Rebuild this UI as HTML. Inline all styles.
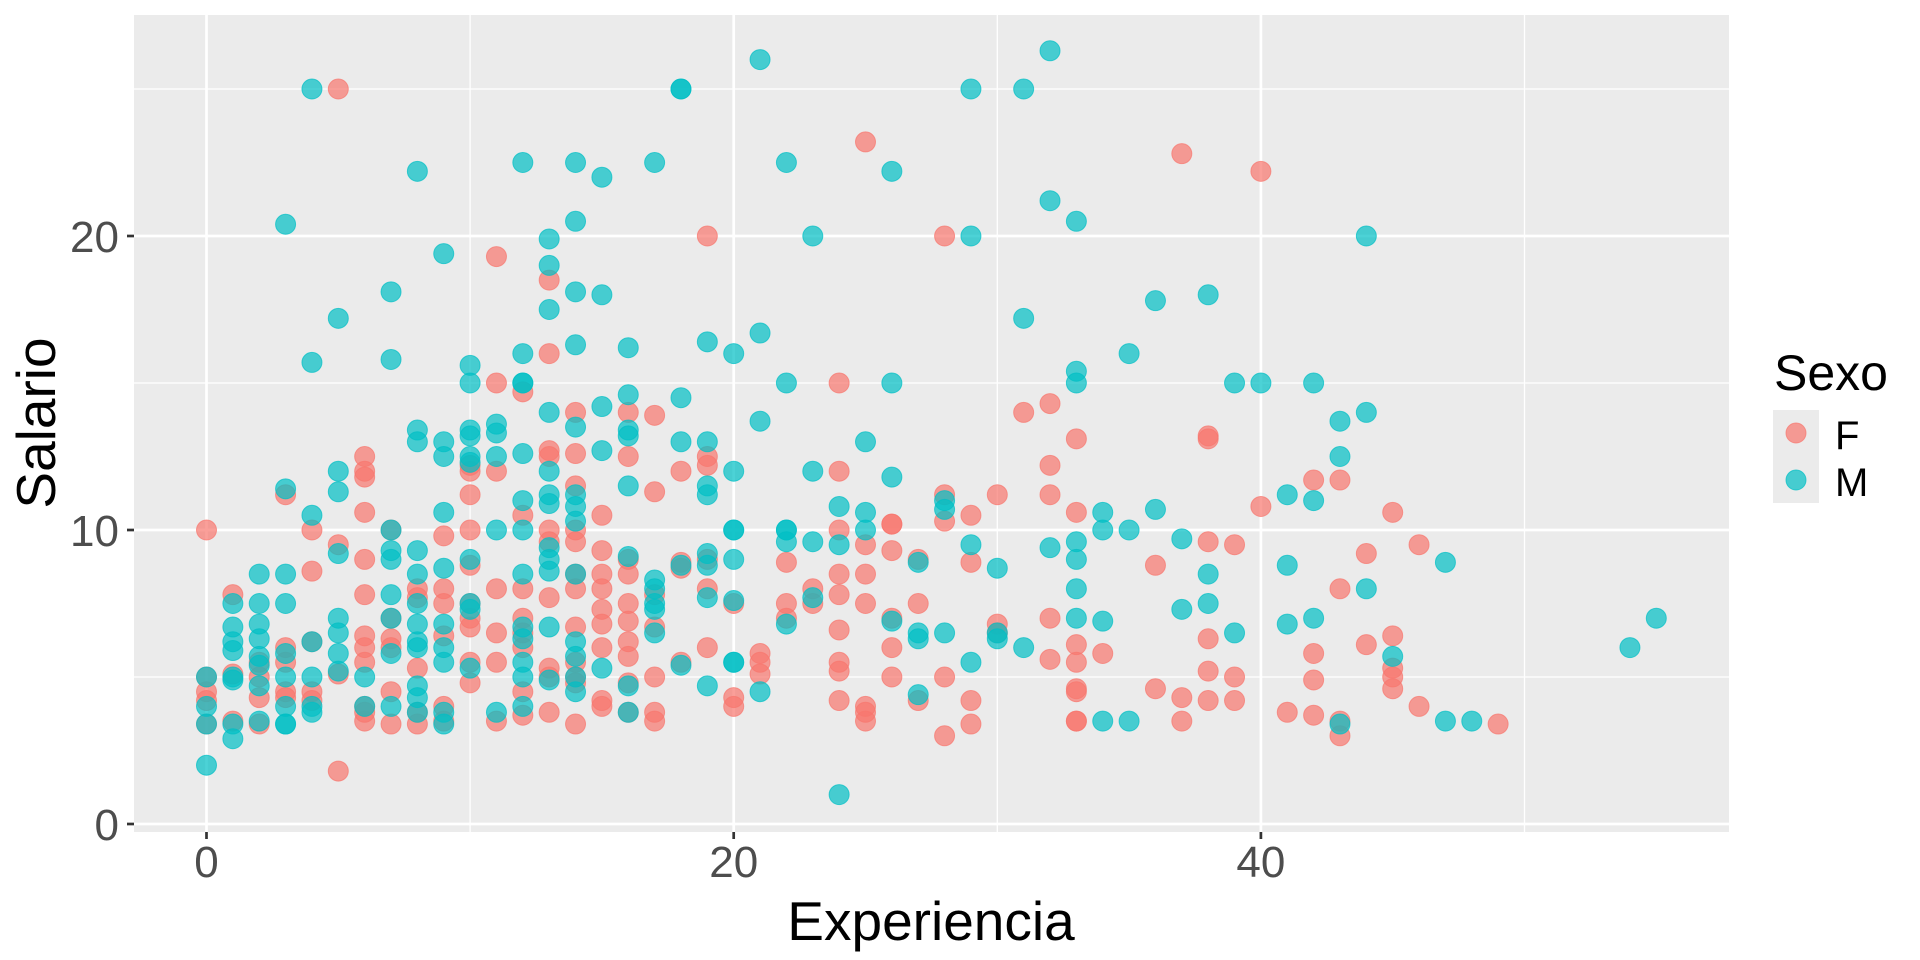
<!DOCTYPE html>
<html><head><meta charset="utf-8"><style>
html,body{margin:0;padding:0;background:#fff;}
svg{display:block;font-family:"Liberation Sans",Arial,sans-serif;}
</style></head><body>
<svg id="chart" width="1920" height="960" viewBox="0 0 1920 960" xmlns="http://www.w3.org/2000/svg">
<rect x="134" y="15" width="1595" height="817" fill="#EBEBEB"/>
<g id="grid"></g>
<g id="points"></g>
<g id="axes"></g>
<text x="931" y="940" font-size="55" text-anchor="middle" fill="#000">Experiencia</text>
<text transform="translate(55,423) rotate(-90)" font-size="55" text-anchor="middle" fill="#000">Salario</text>
<g>
<text x="1774" y="390" font-size="50" fill="#000">Sexo</text>
<rect x="1773" y="410" width="46" height="93" fill="#EBEBEB"/>
<circle cx="1796" cy="433" r="10" fill="#F8766D" fill-opacity="0.7" stroke="#F8766D" stroke-opacity="0.7"/>
<circle cx="1796" cy="480" r="10" fill="#00BFC4" fill-opacity="0.7" stroke="#00BFC4" stroke-opacity="0.7"/>
<text x="1835" y="449" font-size="40" fill="#000">F</text>
<text x="1835" y="496" font-size="40" fill="#000">M</text>
</g>
</svg>
<script>
const xTicks=[0,20,40];
const xMinor=[10,30,50];
const yTicks=[0,10,20];
const yMinor=[5,15,25];
const fData=[
[0,[10,5,4.5,4.2,3.4]],[1,[7.8,3.5,5.1]],[2,[5.5,5,4.3,3.4]],[3,[11.2,6,5.5,4.5,4.3]],[4,[10,8.6,6.2,4.5,4.2]],
[5,[25,9.5,5.1,1.8]],[6,[12.5,12,11.8,10.6,9,7.8,6.4,6,5.5,4,3.8,3.5]],[7,[10,7,6.3,6,4.5,3.4]],[8,[8,7.7,5.3,3.8,3.4]],
[9,[9.8,8,7.5,6.4,4,3.5]],[10,[12.2,12,11.2,10,8.8,7.5,7,6.7,5.5,4.8]],[11,[19.3,15,12,8,6.5,5.5,3.5]],
[12,[14.7,10.5,8,7,6.5,6,4.5,3.7]],[13,[18.5,16,12.7,12.5,10,9.6,7.7,5.3,5,3.8]],[14,[14,12.6,11.5,10,9.6,8.5,8,6.7,5.5,5,4.8,3.4]],
[15,[10.5,9.3,8.5,8,7.3,6.8,6,4.2,4]],[16,[14,12.5,9,8.5,7.5,6.9,6.2,5.7,4.8,3.8]],[17,[13.9,11.3,7.8,6.7,5,3.8,3.5]],
[18,[12,8.9,8.7,5.5]],[19,[20,12.5,12.2,9,8,6]],[20,[7.5,4.3,4]],[21,[5.8,5.5,5.1]],[22,[8.9,7.5,7]],[23,[8,7.5]],
[24,[15,12,10,8.5,7.8,6.6,5.5,5.2,4.2]],[25,[23.2,9.5,8.5,7.5,4,3.8,3.5]],[26,[10.2,10.2,9.3,7,6,5]],[27,[9,7.5,4.2]],
[28,[20,11.2,10.3,5,3]],[29,[10.5,8.9,4.2,3.4]],[30,[11.2,6.8,6.5]],[31,[14]],[32,[14.3,12.2,11.2,7,5.6]],
[33,[13.1,10.6,6.1,5.5,4.6,4.5,3.5,3.5]],[34,[5.8]],[36,[8.8,4.6]],[37,[22.8,4.3,3.5]],[38,[13.2,13.1,9.6,6.3,5.2,4.2]],
[39,[9.5,5,4.2]],[40,[22.2,10.8]],[41,[3.8]],[42,[11.7,5.8,4.9,3.7]],[43,[11.7,8,3.5,3]],[44,[9.2,6.1]],
[45,[10.6,6.4,5.3,5,4.6]],[46,[9.5,4]],[49,[3.4]]];
const mData=[
[0,[5,4,3.4,2]],[1,[7.5,6.7,6.2,5.9,5,4.9,3.4,2.9]],[2,[8.5,7.5,6.8,6.3,5.7,5.4,4.7,3.5]],[3,[20.4,11.4,8.5,7.5,5.8,5,4,3.4,3.4]],
[4,[25,15.7,10.5,6.2,5,4,3.8]],[5,[17.2,12,11.3,9.2,7,6.5,5.8,5.2]],[6,[5,4]],[7,[18.1,15.8,10,9.3,9,7.8,7,5.8,4]],
[8,[22.2,13.4,13,9.3,8.5,7.5,6.8,6.2,6,4.7,4.3,3.8]],[9,[19.4,13,12.5,10.6,8.7,6.8,6,5.5,3.8,3.4]],
[10,[15.6,15,13.4,13.2,12.5,12.3,9,7.5,7.3,5.3]],[11,[13.6,13.3,12.5,10,3.8]],[12,[22.5,16,15,15,12.6,11,10,8.5,6.7,6.3,5.5,5,4]],
[13,[19.9,19,17.5,14,12,11.2,10.9,9.4,9,8.6,6.7,4.9]],[14,[22.5,20.5,18.1,16.3,13.5,11.2,10.8,10.3,8.5,6.2,5.7,5,4.5]],
[15,[22,18,14.2,12.7,5.3]],[16,[16.2,14.6,13.4,13.2,11.5,9.1,4.7,3.8]],[17,[22.5,8.3,8,7.5,7.3,6.5]],[18,[25,25,14.5,13,8.8,5.4]],
[19,[16.4,13,11.5,11.2,9.2,8.8,7.7,4.7]],[20,[16,12,10,10,9,7.6,5.5,5.5]],[21,[26,16.7,13.7,4.5]],[22,[22.5,15,10,10,9.6,6.8]],
[23,[20,12,9.6,7.7]],[24,[10.8,9.5,1]],[25,[13,10.6,10]],[26,[22.2,15,11.8,6.9]],[27,[8.9,6.5,6.3,4.4]],[28,[11,10.7,6.5]],
[29,[25,20,9.5,5.5]],[30,[8.7,6.5,6.3]],[31,[25,17.2,6]],[32,[26.3,21.2,9.4]],[33,[20.5,15.4,15,9.6,9,8,7]],
[34,[10.6,10,6.9,3.5]],[35,[16,10,3.5]],[36,[17.8,10.7]],[37,[9.7,7.3]],[38,[18,8.5,7.5]],[39,[15,6.5]],[40,[15]],
[41,[11.2,8.8,6.8]],[42,[15,11,7]],[43,[13.7,12.5,3.4]],[44,[20,14,8]],[45,[5.7]],[47,[8.9,3.5]],[48,[3.5]],[54,[6]],[55,[7]]];
const NS="http://www.w3.org/2000/svg";
const X=v=>206.5+26.36*v, Y=v=>824-29.4*v;
const PL=134,PR=1729,PT=15,PB=832;
function mk(t,a,p){const e=document.createElementNS(NS,t);for(const k in a)e.setAttribute(k,a[k]);p.appendChild(e);return e;}
const grid=document.getElementById('grid'),axes=document.getElementById('axes'),pts=document.getElementById('points');
xMinor.forEach(v=>{const l=mk('line',{x1:X(v),x2:X(v),y1:PT,y2:PB,stroke:'#fff','stroke-width':1.3},grid);

});
yMinor.forEach(v=>{const l=mk('line',{x1:PL,x2:PR,y1:Y(v),y2:Y(v),stroke:'#fff','stroke-width':1.3},grid);

});
xTicks.forEach(v=>{const l=mk('line',{x1:X(v),x2:X(v),y1:PT,y2:PB,stroke:'#fff','stroke-width':2.7},grid);


const t=mk('line',{x1:X(v),x2:X(v),y1:PB,y2:PB+7,stroke:'#333','stroke-width':2.7},axes);


const s=mk('text',{x:X(v),y:877,'font-size':44,'text-anchor':'middle',fill:'#4D4D4D'},axes);s.textContent=v;

});
yTicks.forEach(v=>{const l=mk('line',{x1:PL,x2:PR,y1:Y(v),y2:Y(v),stroke:'#fff','stroke-width':2.7},grid);


const t=mk('line',{x1:PL-7,x2:PL,y1:Y(v),y2:Y(v),stroke:'#333','stroke-width':2.7},axes);


const s=mk('text',{x:119,y:Y(v)+16,'font-size':44,'text-anchor':'end',fill:'#4D4D4D'},axes);s.textContent=v;

});
function draw(data,col,name){data.forEach(([x,ys])=>ys.forEach(y=>{
const c=mk('circle',{cx:X(x),cy:Y(y),r:10,fill:col,'fill-opacity':0.7,stroke:col,'stroke-opacity':0.7,'stroke-width':1},pts);

}));}
draw(fData,'#F8766D','point-f');
draw(mData,'#00BFC4','point-m');
</script>
</body></html>
